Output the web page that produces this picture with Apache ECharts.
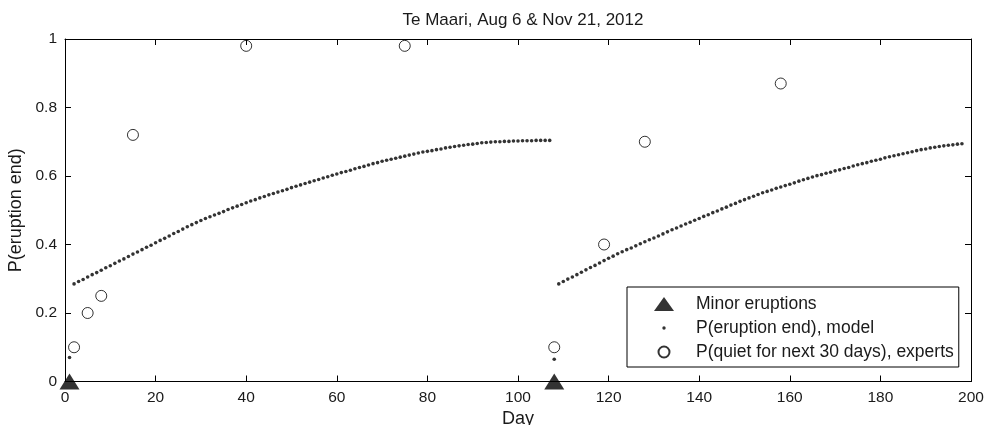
<!DOCTYPE html>
<html>
<head>
<meta charset="utf-8">
<script src="https://cdn.jsdelivr.net/npm/echarts@6/dist/echarts.min.js"></script>
<style>html,body{margin:0;padding:0;background:#fff;}#c{width:985px;height:425px;}</style>
</head>
<body>
<div id="c"></div>
<script>
// ---- data ----
const titleText = 'Te Maari, Aug 6 & Nov 21, 2012';
const xTicks = [0, 20, 40, 60, 80, 100, 120, 140, 160, 180, 200];
const yTicks = [0, 0.2, 0.4, 0.6, 0.8, 1];

const eruptionDays = [1, 108];
const eruptionValues = [0, 0];

const expertDays = [2, 5, 8, 15, 40, 75, 108, 119, 128, 158];
const expertValues = [0.10, 0.20, 0.25, 0.72, 0.98, 0.98, 0.10, 0.40, 0.70, 0.87];

// model, first eruption: day 1 .. 107 (one value per day)
const modelStartA = 1;
const modelValuesA = [
  0.070,
  0.285, 0.292, 0.298, 0.305, 0.312, 0.318, 0.325, 0.332, 0.338,
  0.345, 0.352, 0.358, 0.365, 0.372, 0.378, 0.385, 0.392, 0.398, 0.405,
  0.412, 0.418, 0.425, 0.432, 0.438, 0.445, 0.452, 0.458, 0.464, 0.470,
  0.476, 0.481, 0.486, 0.491, 0.496, 0.502, 0.507, 0.512, 0.517, 0.522,
  0.527, 0.531, 0.536, 0.540, 0.545, 0.549, 0.553, 0.557, 0.561, 0.566,
  0.570, 0.574, 0.578, 0.582, 0.586, 0.590, 0.594, 0.598, 0.602, 0.606,
  0.610, 0.613, 0.617, 0.621, 0.625, 0.628, 0.632, 0.636, 0.639, 0.643,
  0.646, 0.649, 0.652, 0.655, 0.658, 0.661, 0.664, 0.667, 0.670, 0.672,
  0.674, 0.677, 0.679, 0.682, 0.684, 0.686, 0.688, 0.690, 0.692, 0.693,
  0.695, 0.697, 0.698, 0.699, 0.700, 0.700, 0.701, 0.701, 0.702, 0.702,
  0.703, 0.703, 0.703, 0.704, 0.704, 0.704, 0.704
];
// model, second eruption: day 108 .. 198
const modelStartB = 108;
const modelValuesB = [
  0.065,
  0.285, 0.292, 0.299, 0.305, 0.312, 0.319, 0.326, 0.333, 0.339, 0.346,
  0.353, 0.360, 0.366, 0.373, 0.379, 0.385, 0.390, 0.396, 0.402, 0.408,
  0.414, 0.419, 0.425, 0.431, 0.437, 0.443, 0.448, 0.454, 0.460, 0.465,
  0.471, 0.476, 0.482, 0.487, 0.493, 0.498, 0.504, 0.509, 0.515, 0.520,
  0.526, 0.531, 0.536, 0.541, 0.546, 0.551, 0.555, 0.559, 0.564, 0.568,
  0.572, 0.576, 0.580, 0.585, 0.589, 0.593, 0.597, 0.601, 0.604, 0.608,
  0.611, 0.615, 0.618, 0.622, 0.625, 0.629, 0.633, 0.636, 0.639, 0.643,
  0.646, 0.649, 0.653, 0.656, 0.659, 0.662, 0.665, 0.668, 0.671, 0.674,
  0.677, 0.679, 0.682, 0.684, 0.686, 0.688, 0.690, 0.691, 0.693, 0.694
];

const legendNames = ['Minor eruptions', 'P(eruption end), model', 'P(quiet for next 30 days), experts'];

// ---- build ----
const FONT = 'Liberation Sans, Arial, Helvetica, sans-serif';
const TXT = '#1a1a1a';
const pairs = (xs, ys) => xs.map((x, i) => [x, ys[i]]);
const seq = (start, vals) => vals.map((v, i) => [start + i, v]);
const modelData = seq(modelStartA, modelValuesA).concat(seq(modelStartB, modelValuesB));

const triPath = 'path://M0,16L10,0L20,16Z';
const axisCommon = {
  type: 'value',
  axisLine: { show: true, onZero: false, lineStyle: { color: '#000', width: 1 } },
  axisTick: { show: true, inside: true, length: 6, lineStyle: { color: '#000' } },
  splitLine: { show: false }
};

const chart = echarts.init(document.getElementById('c'), null, { renderer: 'canvas' });
chart.setOption({
  backgroundColor: '#fff',
  animation: false,
  textStyle: { fontFamily: FONT },
  title: {
    text: titleText, left: 518, top: 7, textAlign: 'center',
    textStyle: { fontSize: 17, fontWeight: 'normal', color: TXT, fontFamily: FONT }
  },
  grid: { left: 65, right: 14, top: 39, bottom: 43.5, containLabel: false, outerBoundsMode: 'none' },
  legend: {
    orient: 'vertical', left: 627, top: 287,
    padding: [8, 5, 6, 27], itemGap: 6, itemWidth: 54, itemHeight: 14,
    backgroundColor: '#fff', borderColor: '#000', borderWidth: 1, borderRadius: 0,
    textStyle: { fontSize: 17.5, color: TXT, fontFamily: FONT },
    data: [
      { name: legendNames[0], icon: 'path://M0,14L10,0L20,14Z' },
      { name: legendNames[1], icon: 'path://M0,0M14,14M8.7,7A1.7,1.7,0,1,1,5.3,7A1.7,1.7,0,1,1,8.7,7z' },
      { name: legendNames[2], icon: 'path://M0,0M14,14M12.5,7A5.5,5.5,0,1,1,1.5,7A5.5,5.5,0,1,1,12.5,7z' }
    ]
  },
  xAxis: [
    Object.assign({}, axisCommon, {
      position: 'bottom', min: xTicks[0], max: xTicks[xTicks.length - 1], interval: 20,
      axisLabel: { show: true, fontSize: 15.5, color: TXT, margin: 8, fontFamily: FONT },
      name: 'Day', nameLocation: 'middle', nameGap: 28,
      nameTextStyle: { fontSize: 18, color: TXT, fontFamily: FONT }
    }),
    Object.assign({}, axisCommon, {
      position: 'top', min: xTicks[0], max: xTicks[xTicks.length - 1], interval: 20,
      axisLabel: { show: false }
    })
  ],
  yAxis: [
    Object.assign({}, axisCommon, {
      position: 'left', min: yTicks[0], max: yTicks[yTicks.length - 1], interval: 0.2,
      axisLabel: { show: true, fontSize: 15.5, color: TXT, margin: 8, fontFamily: FONT },
      name: 'P(eruption end)', nameLocation: 'middle', nameGap: 38, nameRotate: 90,
      nameTextStyle: { fontSize: 18, color: TXT, fontFamily: FONT }
    }),
    Object.assign({}, axisCommon, {
      position: 'right', min: yTicks[0], max: yTicks[yTicks.length - 1], interval: 0.2,
      axisLabel: { show: false }
    })
  ],
  series: [
    {
      name: legendNames[1], type: 'scatter', xAxisIndex: 0, yAxisIndex: 0,
      symbol: 'circle', symbolSize: 3.6, clip: false,
      itemStyle: { color: '#000' }, z: 2,
      data: modelData
    },
    {
      name: legendNames[2], type: 'scatter', xAxisIndex: 0, yAxisIndex: 0,
      symbol: 'circle', symbolSize: 11, clip: false,
      itemStyle: { color: 'rgba(255,255,255,0)', borderColor: '#000', borderWidth: 1 }, z: 3,
      data: pairs(expertDays, expertValues)
    },
    {
      name: legendNames[0], type: 'scatter', xAxisIndex: 0, yAxisIndex: 0,
      symbol: triPath, symbolSize: [20, 16], clip: false,
      itemStyle: { color: '#000' }, z: 4,
      data: pairs(eruptionDays, eruptionValues)
    }
  ]
});
</script>
</body>
</html>
